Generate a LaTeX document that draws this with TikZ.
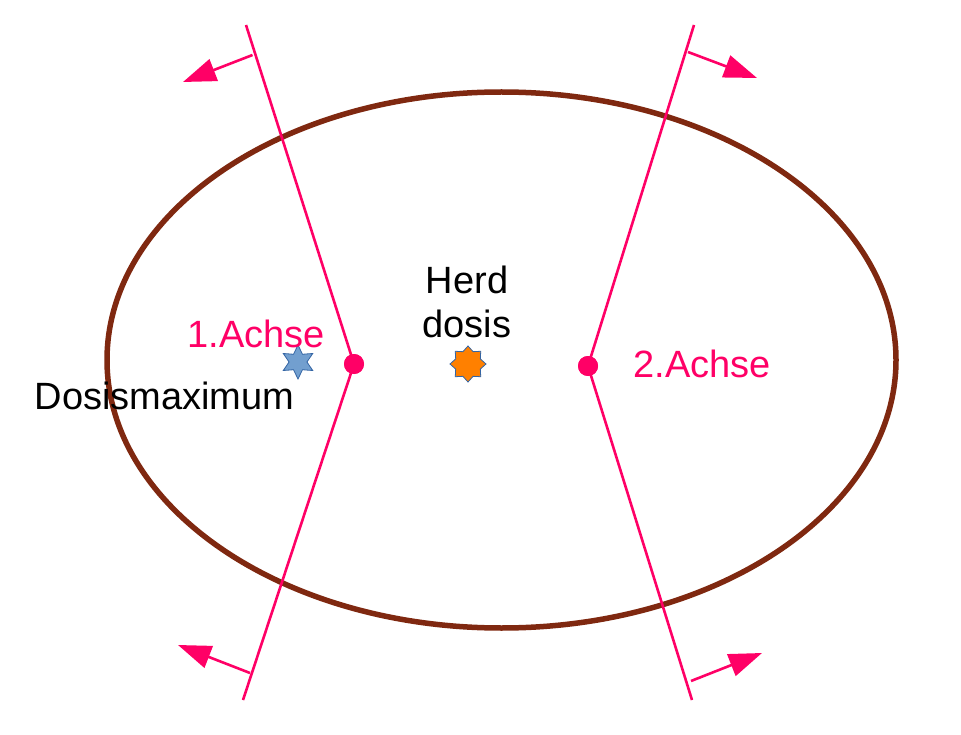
\documentclass[tikz,border=0pt]{standalone}
\usepackage{fontspec}
\setmainfont{Liberation Sans}
\usetikzlibrary{arrows.meta,shapes.geometric}
\definecolor{axis}{HTML}{FF0066}
\definecolor{body}{HTML}{7F2810}
\definecolor{starblue}{HTML}{729FCF}
\definecolor{starline}{HTML}{3465A4}
\definecolor{starorange}{HTML}{FF8000}
\tikzset{
  axisline/.style={draw=axis, line width=2.6pt},
  normarrow/.style={draw=axis, line width=2.6pt, -{Triangle[length=33pt,width=23pt]}},
  pivot/.style={circle, fill=axis, inner sep=0pt, minimum size=20pt},
  lbl/.style={font=\fontsize{38}{44}\selectfont, inner sep=0pt},
}
\begin{document}
\begin{tikzpicture}[x=1pt,y=-1pt]
\useasboundingbox (0,0) rectangle (961,735);
\draw[body, line width=5.5pt] (501.5,360) ellipse [x radius=394.5, y radius=268];
% left axis
\coordinate (l1) at (246,25);
\coordinate (l2) at (243,700);
\node[pivot] (lp) at (354,364) {};
\draw[axisline] (l1) -- (lp.center) -- (l2);
\coordinate (la) at (252.5,55);
\coordinate (lat) at (183,82);
\draw[normarrow] (la) -- (lat);
\coordinate (lb) at (250,673);
\coordinate (lbt) at (178,645);
\draw[normarrow] (lb) -- (lbt);
% right axis
\coordinate (r1) at (694,25);
\coordinate (r2) at (692,700);
\node[pivot] (rp) at (588,366) {};
\draw[axisline] (r1) -- (rp.center) -- (r2);
\coordinate (ra) at (688,52);
\coordinate (rat) at (757,78);
\draw[normarrow] (ra) -- (rat);
\coordinate (rb) at (691,681);
\coordinate (rbt) at (762,653);
\draw[normarrow] (rb) -- (rbt);
\node[pivot] at (lp) {};
\node[pivot] at (rp) {};
% stars
\node[star, star points=6, star point ratio=1.9, minimum size=34pt, inner sep=0pt, fill=starblue, draw=starline, line width=0.8pt] (dmax) at (298,362) {};
\node[star, star points=8, star point ratio=1.35, minimum size=36pt, inner sep=0pt, fill=starorange, draw=starline, line width=0.8pt] (herd) at (468,364) {};
% labels
\node[lbl, text=axis] (a1) at (256,334) {1.Achse};
\node[lbl, text=axis] (a2) at (702,364) {2.Achse};
\node[lbl] (dm) at (164.5,396) {Dosismaximum};
\node[lbl, align=center] (hd) at (467,302) {Herd\\dosis};
\end{tikzpicture}
\end{document}
